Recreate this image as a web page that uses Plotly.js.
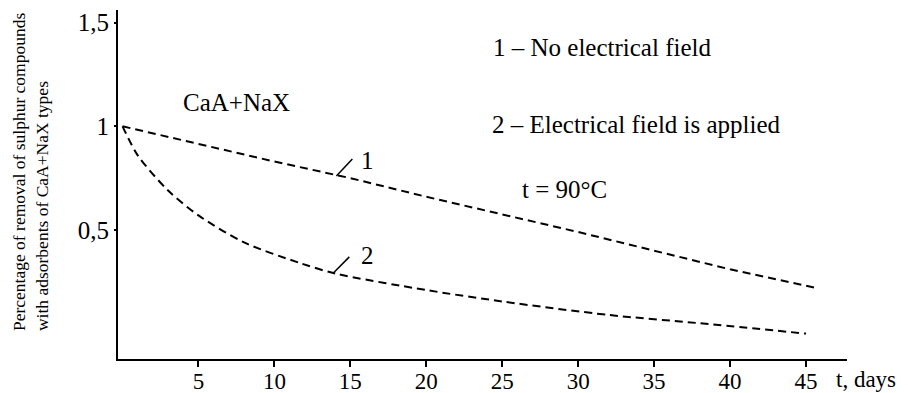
<!DOCTYPE html>
<html>
<head>
<meta charset="utf-8">
<script src="https://cdn.plot.ly/plotly-3.0.1.min.js"></script>
<style>html,body{margin:0;padding:0;background:#fff;}#chart{width:908px;height:393px;}</style>
</head>
<body>
<div id="chart"></div>
<script>
// Curve 1 – no electrical field
const days1 = [0, 5, 10, 15, 20, 25, 30, 35, 40, 45.7];
const removal1 = [1.0, 0.915, 0.83, 0.75, 0.66, 0.575, 0.49, 0.40, 0.31, 0.22];
// Curve 2 – electrical field applied
const days2 = [0, 1, 3, 5, 8, 11.7, 14, 20, 25, 32, 38, 45];
const removal2 = [1.0, 0.86, 0.69, 0.57, 0.44, 0.34, 0.29, 0.21, 0.155, 0.09, 0.05, 0.0];
// Axis ticks
const xTicks = [5, 10, 15, 20, 25, 30, 35, 40, 45];
const yTickVals = [0.5, 1, 1.5];
const yTickText = ['0,5', '1', '1,5'];
// Curve markers ("∠" ticks) and labels
const mark1 = {x: [14.08, 15.13], y: [0.76, 0.842], label: '1', lx: 16.1, ly: 0.835};
const mark2 = {x: [13.88, 14.93], y: [0.292, 0.37], label: '2', lx: 16.1, ly: 0.375};

const FONT = '"Liberation Serif", "Times New Roman", Times, serif';
const dashStyle = {color: '#000', width: 2, dash: '8px,5px'};

const traces = [
  {x: days1, y: removal1, mode: 'lines', line: dashStyle, hoverinfo: 'skip', showlegend: false},
  {x: days2, y: removal2, mode: 'lines', line: Object.assign({shape: 'spline', smoothing: 0.8}, dashStyle), hoverinfo: 'skip', showlegend: false},
  {x: mark1.x, y: mark1.y, mode: 'lines', line: {color: '#000', width: 1.5}, hoverinfo: 'skip', showlegend: false},
  {x: mark2.x, y: mark2.y, mode: 'lines', line: {color: '#000', width: 1.5}, hoverinfo: 'skip', showlegend: false}
];

const txt = (size) => ({family: FONT, size: size, color: '#000'});

const layout = {
  width: 908, height: 393,
  margin: {l: 117.5, r: 61, t: 10, b: 34},
  paper_bgcolor: '#fff', plot_bgcolor: '#fff',
  font: txt(23),
  xaxis: {
    range: [-0.3, 47.7], showgrid: false, zeroline: false,
    showline: true, linecolor: '#000', linewidth: 2,
    tickvals: xTicks, ticktext: xTicks.map(String),
    ticks: 'outside', ticklen: 6, tickwidth: 2, tickcolor: '#000',
    ticklabelstandoff: -6,
    tickfont: txt(23)
  },
  yaxis: {
    range: [-0.1225, 1.561], showgrid: false, zeroline: false,
    showline: true, linecolor: '#000', linewidth: 2,
    tickvals: yTickVals, ticktext: yTickText,
    ticks: 'outside', ticklen: 2, tickwidth: 2, tickcolor: '#000',
    tickfont: txt(25)
  },
  annotations: [
    {xref: 'paper', yref: 'paper', x: -0.12, y: 0.0745, xanchor: 'center', yanchor: 'bottom',
     textangle: -90, align: 'left', showarrow: false,
     text: 'Percentage of removal of sulphur compounds<br>with adsorbents of CaA+NaX types',
     font: txt(17.5)},
    {xref: 'paper', yref: 'paper', x: 0.982, y: -0.058, xanchor: 'left', yanchor: 'middle',
     showarrow: false, text: 't, days', font: txt(23)},
    {xref: 'paper', yref: 'paper', x: (491 - 117.5) / 729.5, y: (359 - 47) / 349, xanchor: 'left', yanchor: 'middle',
     showarrow: false, text: '1 – No electrical field', font: txt(25)},
    {xref: 'paper', yref: 'paper', x: (490 - 117.5) / 729.5, y: (359 - 124) / 349, xanchor: 'left', yanchor: 'middle',
     showarrow: false, text: '2 – Electrical field is applied', font: txt(25)},
    {xref: 'paper', yref: 'paper', x: (520 - 117.5) / 729.5, y: (359 - 189) / 349, xanchor: 'left', yanchor: 'middle',
     showarrow: false, text: 't = 90°C', font: txt(25)},
    {xref: 'paper', yref: 'paper', x: (181 - 117.5) / 729.5, y: (359 - 102) / 349, xanchor: 'left', yanchor: 'middle',
     showarrow: false, text: 'CaA+NaX', font: txt(25)},
    {xref: 'x', yref: 'y', x: mark1.lx, y: mark1.ly, xanchor: 'center', yanchor: 'middle',
     showarrow: false, text: mark1.label, font: txt(25)},
    {xref: 'x', yref: 'y', x: mark2.lx, y: mark2.ly, xanchor: 'center', yanchor: 'middle',
     showarrow: false, text: mark2.label, font: txt(25)}
  ]
};

Plotly.newPlot('chart', traces, layout, {staticPlot: true, displayModeBar: false});
</script>
</body>
</html>
